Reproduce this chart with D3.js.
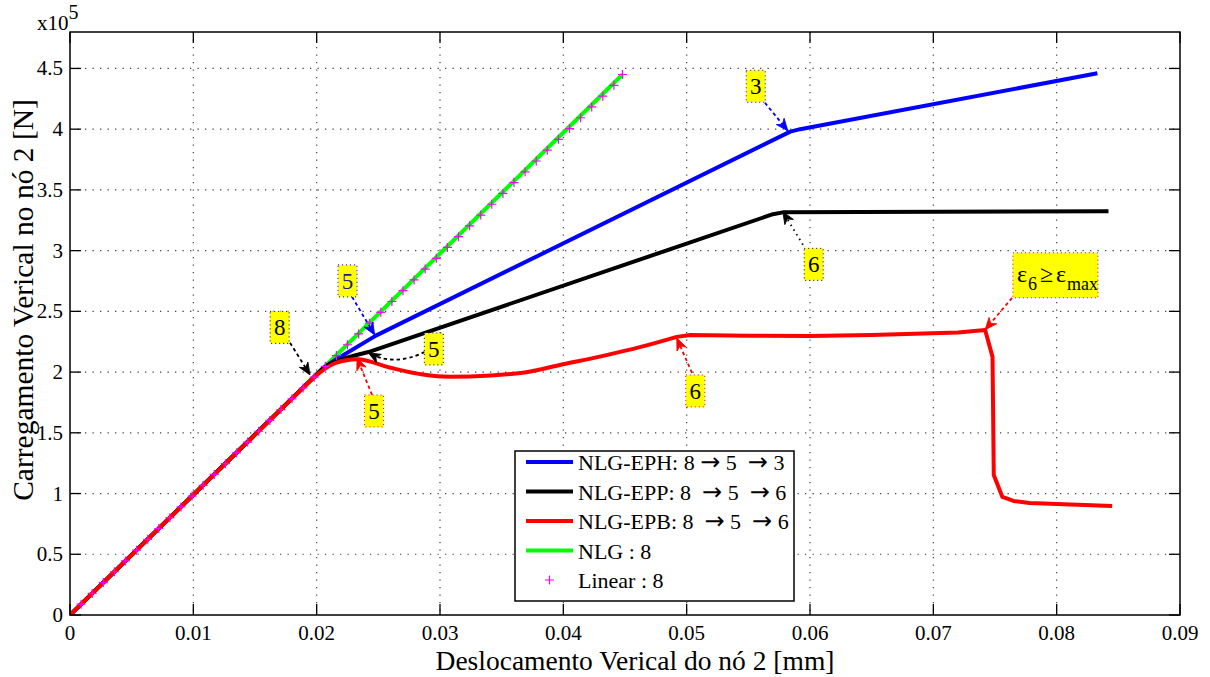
<!DOCTYPE html>
<html lang="en">
<head>
  <meta charset="UTF-8">
  <script src="https://cdn.jsdelivr.net/npm/d3@7"></script>
  <title>Carregamento x Deslocamento</title>
  <style>
    body { margin: 0; background: #fff; }
    svg text { font-family: "Liberation Serif", "Times New Roman", serif; }
  </style>
</head>
<body>
  <div id="chart"></div>
<script>
// eixos (deslocamento em mm, carga em x10^5 N)
var xTicks = [0, 0.01, 0.02, 0.03, 0.04, 0.05, 0.06, 0.07, 0.08, 0.09];
var yTicks = [0, 0.5, 1, 1.5, 2, 2.5, 3, 3.5, 4, 4.5];

// NLG-EPH: 8 -> 5 -> 3
var ephX = [0, 0.0205, 0.0215, 0.0248, 0.0584, 0.0592, 0.0833];
var ephY = [0, 2.03, 2.10, 2.30, 3.98, 4.00, 4.46];

// NLG-EPP: 8 -> 5 -> 6
var eppX = [0, 0.0205, 0.0212, 0.0220, 0.0230, 0.0242, 0.0570, 0.0578, 0.0842];
var eppY = [0, 2.03, 2.075, 2.105, 2.135, 2.165, 3.30, 3.315, 3.325];

// NLG-EPB: 8 -> 5 -> 6
var epbX = [0, 0.0193, 0.0203, 0.0213, 0.0223, 0.0233, 0.0259, 0.0286, 0.0308, 0.0341, 0.0367,
            0.0400, 0.0435, 0.0462, 0.0492, 0.0503, 0.0550, 0.0600, 0.0650, 0.0720, 0.0742,
            0.0748, 0.0749, 0.0756, 0.0765, 0.0778, 0.0845];
var epbY = [0, 1.91, 2.00, 2.065, 2.095, 2.106, 2.038, 1.980, 1.962, 1.972, 1.995,
            2.065, 2.14, 2.205, 2.29, 2.306, 2.30, 2.298, 2.305, 2.325, 2.347,
            2.125, 1.153, 0.972, 0.939, 0.922, 0.898];

// NLG : 8
var nlgX = [0, 0.0205, 0.0448];
var nlgY = [0, 2.03, 4.45];

// Linear : 8 (marcadores +)
var linX = [0, 0.0009, 0.0018, 0.0027, 0.0036, 0.0045, 0.0054, 0.0063, 0.0072, 0.0081,
            0.0090, 0.0099, 0.0108, 0.0117, 0.0126, 0.0135, 0.0144, 0.0153, 0.0162, 0.0171,
            0.0180, 0.0189, 0.0198, 0.0207, 0.0216, 0.0225, 0.0234, 0.0243, 0.0252, 0.0261,
            0.0270, 0.0279, 0.0288, 0.0297, 0.0306, 0.0315, 0.0324, 0.0333, 0.0342, 0.0351,
            0.0360, 0.0369, 0.0378, 0.0387, 0.0396, 0.0405, 0.0414, 0.0423, 0.0432, 0.0441,
            0.0448];
var linY = [0, 0.089, 0.178, 0.267, 0.356, 0.445, 0.534, 0.623, 0.712, 0.801,
            0.890, 0.979, 1.068, 1.157, 1.246, 1.335, 1.424, 1.513, 1.602, 1.691,
            1.780, 1.869, 1.958, 2.047, 2.136, 2.225, 2.314, 2.403, 2.492, 2.581,
            2.670, 2.759, 2.848, 2.937, 3.026, 3.115, 3.204, 3.293, 3.382, 3.471,
            3.560, 3.649, 3.738, 3.827, 3.916, 4.005, 4.094, 4.183, 4.272, 4.361,
            4.450];

// anotacoes: texto, centro da caixa, inicio e ponta da seta
var noteText  = ["3", "6", "6", "5", "8", "5", "5", "eps"];
var noteColor = ["#0000ff", "#000", "#ff0000", "#0000ff", "#000", "#000", "#ff0000", "#ff0000"];
var noteBox   = [[0.0556, 4.353], [0.0603, 2.887], [0.0507, 1.845], [0.0225, 2.751],
                 [0.0170, 2.368], [0.0295, 2.191], [0.02465, 1.680], [0.0799, 2.797]];
var noteTail  = [[0.05635, 4.217], [0.05943, 3.048], [0.05043, 1.993], [0.02287, 2.619],
                 [0.01784, 2.241], [0.02878, 2.166], [0.02449, 1.812], [0.07638, 2.611]];
var noteTip   = [[0.0582, 3.987], [0.0578, 3.32], [0.0492, 2.28], [0.0247, 2.306],
                 [0.01946, 1.977], [0.0242, 2.158], [0.02327, 2.117], [0.0742, 2.348]];

var W = 1210, H = 677;
var L = 70, R = 1180, T = 32, B = 615;
var SERIF = "'Liberation Serif', 'Times New Roman', serif";
var SANS = "'Liberation Sans', Arial, sans-serif";

var x = d3.scaleLinear().domain([0, 0.09]).range([L, R]);
var y = d3.scaleLinear().domain([0, 4.8]).range([B, T]);

var svg = d3.select("#chart").append("svg")
    .attr("width", W)
    .attr("height", H)
    .attr("font-family", SERIF)
    .attr("id", "plotsvg");

svg.append("defs").append("clipPath").attr("id", "clip")
    .append("rect").attr("x", L).attr("y", T).attr("width", R - L).attr("height", B - T);

// grade pontilhada
var grid = svg.append("g");
grid.selectAll(".gx").data(xTicks.slice(1, -1)).enter().append("line")
    .attr("x1", d => x(d)).attr("x2", d => x(d))
    .attr("y1", T).attr("y2", B)
    .attr("stroke", "#444").attr("stroke-width", 1.2)
    .attr("stroke-dasharray", "1.3,6.2");
grid.selectAll(".gy").data(yTicks.slice(1)).enter().append("line")
    .attr("y1", d => y(d)).attr("y2", d => y(d))
    .attr("x1", L).attr("x2", R)
    .attr("stroke", "#444").attr("stroke-width", 1.2)
    .attr("stroke-dasharray", "1.3,6.2");

// ticks para dentro (4 lados)
var tl = 11;
var tk = svg.append("g").attr("stroke", "#000").attr("stroke-width", 1.3);
xTicks.forEach(function(v) {
    tk.append("line").attr("x1", x(v)).attr("x2", x(v)).attr("y1", B).attr("y2", B - tl);
    tk.append("line").attr("x1", x(v)).attr("x2", x(v)).attr("y1", T).attr("y2", T + tl);
});
yTicks.forEach(function(v) {
    tk.append("line").attr("y1", y(v)).attr("y2", y(v)).attr("x1", L).attr("x2", L + tl);
    tk.append("line").attr("y1", y(v)).attr("y2", y(v)).attr("x1", R).attr("x2", R - tl);
});

// rotulos dos ticks
svg.append("g").selectAll("text").data(xTicks).enter().append("text")
    .attr("x", d => x(d)).attr("y", 640)
    .attr("text-anchor", "middle")
    .attr("font-family", SERIF)
    .style("font-size", "21px")
    .text(d => d === 0 ? "0" : d3.format(".2f")(d));
svg.append("g").selectAll("text").data(yTicks).enter().append("text")
    .attr("x", 63).attr("y", d => y(d) + 7)
    .attr("text-anchor", "end")
    .attr("font-family", SERIF)
    .style("font-size", "21px")
    .text(d => d3.format("~g")(d));

// x10^5
var ex = svg.append("text").attr("x", 37).attr("y", 30)
    .attr("font-family", SERIF).style("font-size", "21px");
ex.append("tspan").text("x10");
ex.append("tspan").attr("dy", -11).style("font-size", "20px").text("5");

// titulos dos eixos
svg.append("text")
    .attr("x", 635).attr("y", 670)
    .attr("text-anchor", "middle")
    .attr("font-family", SERIF)
    .style("font-size", "27.5px")
    .text("Deslocamento Verical do nó 2 [mm]");
svg.append("text")
    .attr("transform", "translate(33,300) rotate(-90)")
    .attr("text-anchor", "middle")
    .attr("font-family", SERIF)
    .style("font-size", "29.5px")
    .text("Carregamento Verical no nó 2 [N]");

// curvas
var line = d3.line().x(d => x(d[0])).y(d => y(d[1]));
var smooth = d3.line().x(d => x(d[0])).y(d => y(d[1])).curve(d3.curveMonotoneX);
var zip = (a, b) => a.map((v, i) => [v, b[i]]);
var curves = svg.append("g").attr("clip-path", "url(#clip)");

// trecho suave entre o ponto 8 e o ponto 6 (indices 1..14) na curva vermelha
function epbPath() {
    var pts = zip(epbX, epbY);
    var a = line(pts.slice(0, 2));
    var b = smooth(pts.slice(1, 15)).replace(/^M/, "L");
    var c = line(pts.slice(14)).replace(/^M/, "L");
    return a + b + c;
}

var series = [
    {d: line(zip(nlgX, nlgY)), c: "#00ff00"},
    {d: line(zip(ephX, ephY)), c: "#0000ff"},
    {d: line(zip(eppX, eppY)), c: "#000000"},
    {d: epbPath(), c: "#ff0000"}
];
series.forEach(function(s) {
    curves.append("path")
        .attr("d", s.d)
        .attr("fill", "none")
        .attr("stroke", s.c)
        .attr("stroke-width", 4)
        .attr("stroke-linejoin", "round");
});

// marcadores +
var ms = 4.5;
curves.append("g").selectAll("path").data(zip(linX, linY)).enter().append("path")
    .attr("d", d => {
        var px = x(d[0]), py = y(d[1]);
        return "M" + (px - ms) + "," + py + "H" + (px + ms) + "M" + px + "," + (py - ms) + "V" + (py + ms);
    })
    .attr("stroke", "#ff00ff")
    .attr("stroke-width", 1.2)
    .attr("fill", "none");

// caixa dos eixos
svg.append("rect")
    .attr("x", L).attr("y", T).attr("width", R - L).attr("height", B - T)
    .attr("fill", "none").attr("stroke", "#000").attr("stroke-width", 1.5);

// anotacoes
var notes = svg.append("g");
function arrowHead(g, tx, ty, ang, col) {
    g.append("path")
        .attr("d", "M0,0 L-12,-5 L-8.5,0 L-12,5 Z")
        .attr("transform", "translate(" + tx + "," + ty + ") rotate(" + (ang * 180 / Math.PI) + ")")
        .attr("fill", col).attr("stroke", col).attr("stroke-width", 0.8);
}
noteText.forEach(function(t, i) {
    var col = noteColor[i];
    var tx = x(noteTail[i][0]), ty = y(noteTail[i][1]);
    var px = x(noteTip[i][0]), py = y(noteTip[i][1]);
    var dash = (i === 1) ? "1.5,4" : "3.5,3";
    var ang;
    if (i === 5) {
        // seta curva do "5" preto
        var cx = (tx + px) / 2 - 3, cy = Math.max(ty, py) + 14;
        notes.append("path")
            .attr("d", "M" + tx + "," + ty + " Q" + cx + "," + cy + " " + px + "," + py)
            .attr("fill", "none").attr("stroke", col).attr("stroke-width", 1.8)
            .attr("stroke-dasharray", dash);
        ang = Math.atan2(py - cy, px - cx);
    } else {
        notes.append("line")
            .attr("x1", tx).attr("y1", ty).attr("x2", px).attr("y2", py)
            .attr("stroke", col).attr("stroke-width", 1.8)
            .attr("stroke-dasharray", dash);
        ang = Math.atan2(py - ty, px - tx);
    }
    arrowHead(notes, px, py, ang, col);

    var bx = x(noteBox[i][0]), by = y(noteBox[i][1]);
    var bw = t === "eps" ? 85 : 19, bh = t === "eps" ? 45 : 32;
    var left = bx - bw / 2;
    notes.append("rect")
        .attr("x", left).attr("y", by - bh / 2)
        .attr("width", bw).attr("height", bh)
        .attr("fill", "#ffff00")
        .attr("stroke", col).attr("stroke-width", 1)
        .attr("stroke-dasharray", "1,3");
    if (t === "eps") {
        var base = by + 7;
        notes.append("text").attr("x", left + 4).attr("y", base)
            .attr("font-family", SANS).style("font-size", "24px").text("ε");
        notes.append("text").attr("x", left + 15).attr("y", base + 8)
            .attr("font-family", SERIF).style("font-size", "18px").text("6");
        notes.append("text").attr("x", left + 27).attr("y", base)
            .attr("font-family", SANS).style("font-size", "24px").text("≥");
        notes.append("text").attr("x", left + 43).attr("y", base)
            .attr("font-family", SANS).style("font-size", "24px").text("ε");
        notes.append("text").attr("x", left + 54).attr("y", base + 8)
            .attr("font-family", SERIF).style("font-size", "18px").text("max");
    } else {
        notes.append("text")
            .attr("x", bx).attr("y", by + 8)
            .attr("text-anchor", "middle")
            .attr("font-family", SERIF)
            .style("font-size", "23px")
            .attr("fill", i === 3 ? "#1c1c8c" : "#000")
            .text(t);
    }
});

// legenda
var legNames = [["NLG-EPH: 8 ", "\u2192", " 5  ", "\u2192", " 3"],
                ["NLG-EPP: 8  ", "\u2192", " 5  ", "\u2192", " 6"],
                ["NLG-EPB: 8  ", "\u2192", " 5  ", "\u2192", " 6"],
                ["NLG : 8"], ["Linear : 8"]];
var legColors = ["#0000ff", "#000000", "#ff0000", "#00ff00", "#ff00ff"];
var leg = svg.append("g");
leg.append("rect")
    .attr("x", 515).attr("y", 451).attr("width", 279).attr("height", 150)
    .attr("fill", "#fff").attr("stroke", "#000").attr("stroke-width", 1.5);
legNames.forEach(function(parts, i) {
    var ly = 462 + i * 29.5;
    if (i < 4) {
        leg.append("line")
            .attr("x1", 526).attr("x2", 573).attr("y1", ly).attr("y2", ly)
            .attr("stroke", legColors[i]).attr("stroke-width", 4);
    } else {
        leg.append("path")
            .attr("d", "M" + (549.5 - ms) + "," + ly + "H" + (549.5 + ms) + "M549.5," + (ly - ms) + "V" + (ly + ms))
            .attr("stroke", legColors[i]).attr("stroke-width", 1.2);
    }
    var lt = leg.append("text")
        .attr("x", 578).attr("y", ly + 8)
        .attr("font-family", SERIF)
        .attr("xml:space", "preserve")
        .style("white-space", "pre")
        .style("font-size", "22px");
    parts.forEach(function(p) {
        var sp = lt.append("tspan").text(p);
        if (p === "\u2192") sp.attr("font-family", "'DejaVu Sans'").style("font-size", "24px");
    });
});
</script>
</body>
</html>
